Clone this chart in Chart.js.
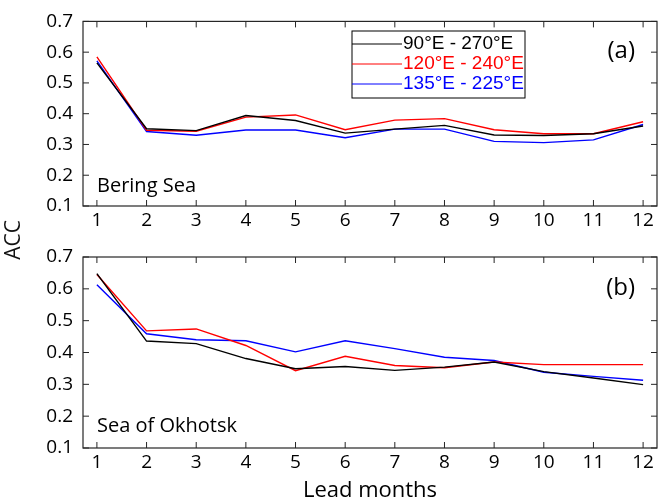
<!DOCTYPE html>
<html>
<head>
<meta charset="utf-8">
<script src="https://cdn.jsdelivr.net/npm/chart.js@4.4.0/dist/chart.umd.min.js"></script>
<style>
  body { margin: 0; background: #fff; }
  #wrap { position: relative; width: 667px; height: 504px; }
  #c1 { position: absolute; left: 0; top: 0; }
  #c2 { position: absolute; left: 0; top: 230px; }
  #acc {
    position: absolute; left: -18px; top: 226px; width: 60px; text-align: center;
    font: 21px "Open Sans"; color: #111; transform: rotate(-90deg);
  }
</style>
</head>
<body>
<div id="wrap">
  <canvas id="c1" width="667" height="230"></canvas>
  <canvas id="c2" width="667" height="274"></canvas>
  <div id="acc">ACC</div>
</div>
<script>
const leadMonths = [1, 2, 3, 4, 5, 6, 7, 8, 9, 10, 11, 12];
const yTicks = [0.1, 0.2, 0.3, 0.4, 0.5, 0.6, 0.7];
const seriesLabels = ["90°E - 270°E", "120°E - 240°E", "135°E - 225°E"];
const seriesColors = ["#000000", "#ff0000", "#0000ff"];

// (a) Bering Sea
const bering90_270 = [0.565, 0.351, 0.345, 0.394, 0.378, 0.337, 0.35, 0.362, 0.331, 0.329, 0.335, 0.36];
const bering120_240 = [0.585, 0.346, 0.343, 0.389, 0.396, 0.348, 0.379, 0.384, 0.348, 0.335, 0.335, 0.374];
const bering135_225 = [0.572, 0.342, 0.33, 0.347, 0.347, 0.322, 0.35, 0.35, 0.31, 0.306, 0.315, 0.365];

// (b) Sea of Okhotsk
const okhotsk90_270 = [0.648, 0.436, 0.428, 0.381, 0.349, 0.356, 0.344, 0.354, 0.37, 0.34, 0.32, 0.299];
const okhotsk120_240 = [0.645, 0.468, 0.474, 0.422, 0.343, 0.388, 0.359, 0.352, 0.37, 0.362, 0.362, 0.362];
const okhotsk135_225 = [0.613, 0.459, 0.44, 0.437, 0.402, 0.437, 0.412, 0.385, 0.375, 0.338, 0.325, 0.313];

const tickFont = { family: "Open Sans", size: 19 };

const frame = {
  id: "frame",
  afterDatasetsDraw(chart, args, opts) {
    const { ctx, chartArea: a, scales } = chart;
    ctx.save();
    ctx.strokeStyle = "#262626";
    ctx.lineWidth = 1.2;
    ctx.strokeRect(a.left, a.top, a.right - a.left, a.bottom - a.top);
    ctx.beginPath();
    ctx.lineWidth = 1;
    leadMonths.forEach((m) => {
      const x = scales.x.getPixelForValue(m);
      ctx.moveTo(x, a.bottom);
      ctx.lineTo(x, a.bottom - 6);
      ctx.moveTo(x, a.top);
      ctx.lineTo(x, a.top + 6);
    });
    yTicks.forEach((v) => {
      const y = scales.y.getPixelForValue(v);
      ctx.moveTo(a.right, y);
      ctx.lineTo(a.right - 6, y);
      ctx.moveTo(a.left, y);
      ctx.lineTo(a.left + 6, y);
    });
    ctx.stroke();

    ctx.fillStyle = "#000";
    ctx.font = '24px "Open Sans"';
    ctx.textAlign = "right";
    ctx.textBaseline = "middle";
    ctx.fillText(opts.tag, a.right - 22, a.top + opts.tagY);
    ctx.font = '20px "Open Sans"';
    ctx.textAlign = "left";
    ctx.textBaseline = "alphabetic";
    ctx.fillText(opts.sea, a.left + 14, a.bottom - opts.seaY);

    if (opts.legend) {
      const L = opts.legend;
      ctx.fillStyle = "#fff";
      ctx.fillRect(L.x, L.y, L.w, L.h);
      ctx.strokeStyle = "#000";
      ctx.lineWidth = 1;
      ctx.strokeRect(L.x, L.y, L.w, L.h);
      ctx.font = '19px "Liberation Sans"';
      ctx.textBaseline = "middle";
      chart.data.datasets.forEach((ds, i) => {
        const y = L.y + 13 + i * 20;
        ctx.strokeStyle = ds.borderColor;
        ctx.beginPath();
        ctx.moveTo(L.x, y);
        ctx.lineTo(L.x + 50, y);
        ctx.stroke();
        ctx.fillStyle = ds.borderColor;
        ctx.fillText(ds.label, L.x + 51, y);
      });
    }
    ctx.restore();
  },
};

function makeChart(id, series, pad, xHeight, frameOpts, withTitle) {
  return new Chart(document.getElementById(id), {
    type: "line",
    data: {
      datasets: series.map((vals, i) => ({
        label: seriesLabels[i],
        data: leadMonths.map((m, j) => ({ x: m, y: vals[j] })),
        borderColor: seriesColors[i],
        borderWidth: 1.4,
        pointRadius: 0,
        tension: 0,
        fill: false,
      })),
    },
    options: {
      responsive: false,
      animation: false,
      layout: { padding: pad },
      plugins: { legend: { display: false }, tooltip: { enabled: false }, frame: frameOpts },
      scales: {
        x: {
          type: "linear",
          min: 0.72,
          max: 12.28,
          grid: { display: false, drawTicks: false },
          border: { display: false },
          afterBuildTicks: (s) => { s.ticks = leadMonths.map((v) => ({ value: v })); },
          afterFit: (s) => { s.height = xHeight; },
          ticks: { color: "#000", font: tickFont, padding: 3, maxRotation: 0, autoSkip: false },
          title: {
            display: withTitle,
            text: "Lead months",
            color: "#000",
            font: { family: "Open Sans", size: 22 },
            padding: { top: 0, bottom: 0 },
          },
        },
        y: {
          min: 0.1,
          max: 0.7,
          grid: { display: false, drawTicks: false },
          border: { display: false },
          afterBuildTicks: (s) => { s.ticks = yTicks.map((v) => ({ value: v })); },
          afterFit: (s) => { s.width = 83; },
          ticks: { color: "#000", font: tickFont, padding: 10, callback: (v) => v.toFixed(1) },
        },
      },
    },
    plugins: [frame],
  });
}

makeChart("c1", [bering90_270, bering120_240, bering135_225],
  { top: 14, right: 10, left: 0, bottom: 0 }, 24,
  { tag: "(a)", tagY: 30, sea: "Bering Sea", seaY: 14,
    legend: { x: 352, y: 31, w: 173, h: 67 } }, false);

makeChart("c2", [okhotsk90_270, okhotsk120_240, okhotsk135_225],
  { top: 27, right: 10, left: 0, bottom: 0 }, 56,
  { tag: "(b)", tagY: 31, sea: "Sea of Okhotsk", seaY: 16 }, true);
</script>
</body>
</html>
